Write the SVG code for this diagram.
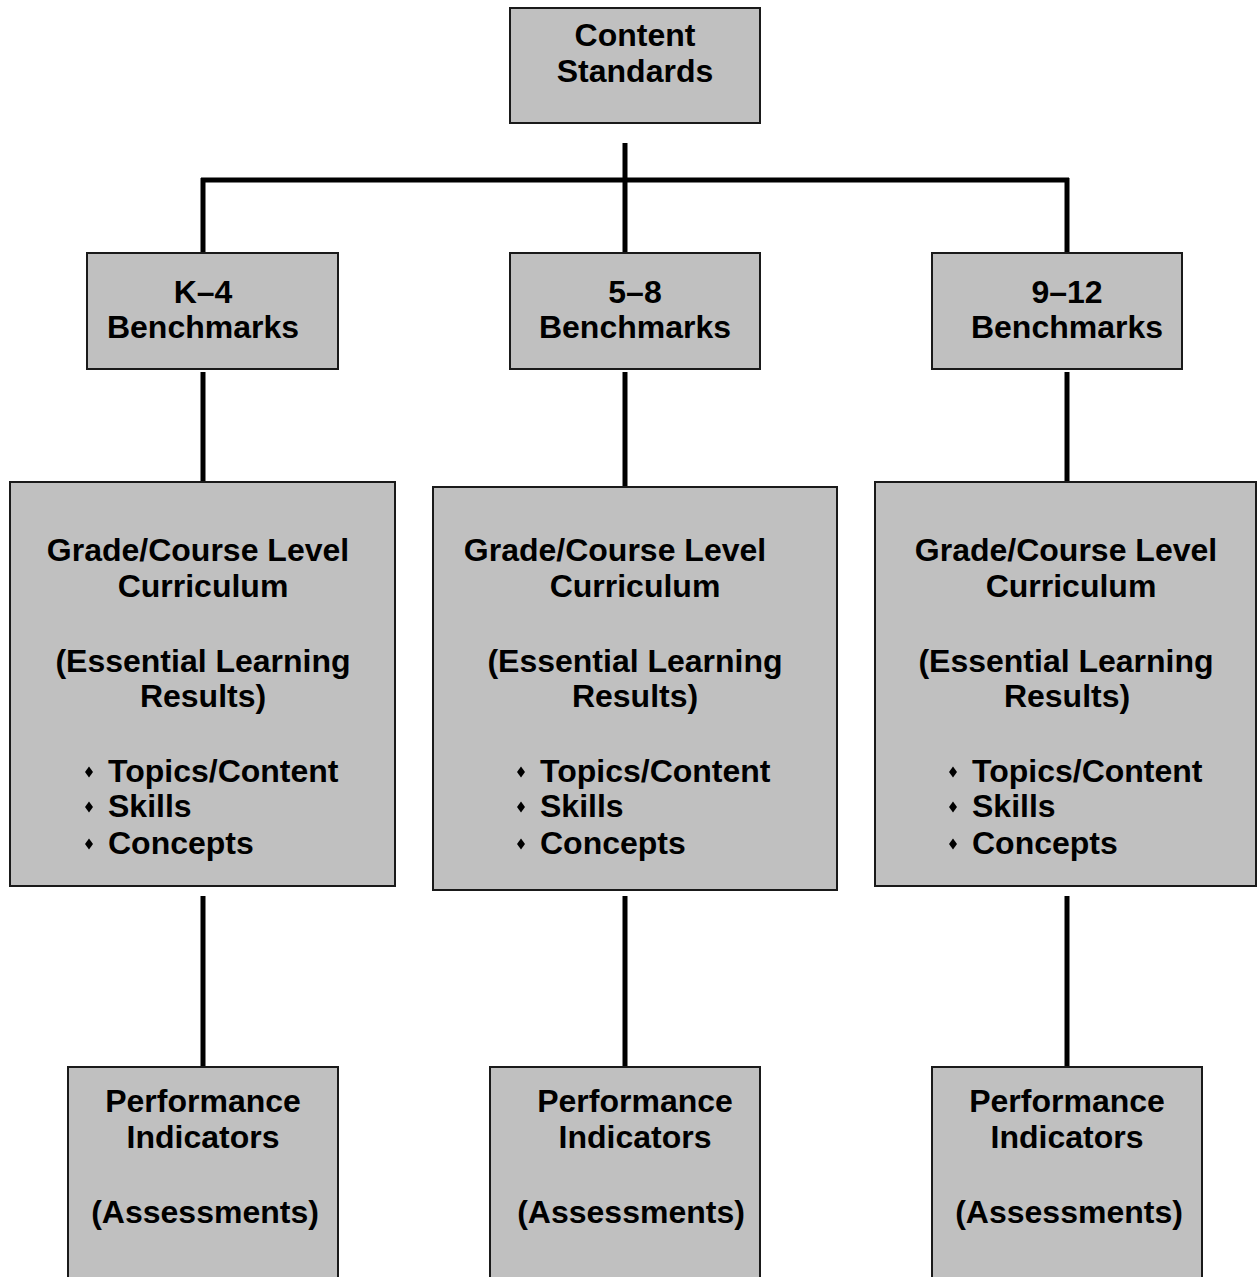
<svg xmlns="http://www.w3.org/2000/svg" width="1257" height="1277" viewBox="0 0 1257 1277">
<style>
.box{fill:#c0c0c0;stroke:#1a1a1a;stroke-width:2}
.t{font-family:"Liberation Sans",Arial,sans-serif;font-weight:bold;font-size:32px;fill:#000;text-anchor:middle}
.l{text-anchor:start}
.c{stroke:#000;stroke-width:5;fill:none}
</style>
<defs>
<polygon id="dia" points="0,-5.5 4,0 0,5.5 -4,0" fill="#000"/>
</defs>
<rect width="1257" height="1277" fill="#fff"/>
<g id="connectors">
<line class="c" x1="625" y1="143" x2="625" y2="257"/>
<line class="c" x1="201" y1="180" x2="1069" y2="180"/>
<line class="c" x1="203" y1="178" x2="203" y2="257"/>
<line class="c" x1="1067" y1="178" x2="1067" y2="257"/>
<line class="c" x1="203" y1="372" x2="203" y2="487"/>
<line class="c" x1="625" y1="372" x2="625" y2="489"/>
<line class="c" x1="1067" y1="372" x2="1067" y2="487"/>
<line class="c" x1="203" y1="896" x2="203" y2="1069"/>
<line class="c" x1="625" y1="896" x2="625" y2="1069"/>
<line class="c" x1="1067" y1="896" x2="1067" y2="1069"/>
</g>
<g id="content-standards">
<rect class="box" x="510" y="8" width="250" height="115"/>
<text class="t" x="635" y="46">Content</text>
<text class="t" x="635" y="82">Standards</text>
</g>
<g id="k4-benchmarks">
<rect class="box" x="87" y="253" width="251" height="116"/>
<text class="t" x="203" y="303">K–4</text>
<text class="t" x="203" y="338">Benchmarks</text>
</g>
<g id="58-benchmarks">
<rect class="box" x="510" y="253" width="250" height="116"/>
<text class="t" x="635" y="303">5–8</text>
<text class="t" x="635" y="338">Benchmarks</text>
</g>
<g id="912-benchmarks">
<rect class="box" x="932" y="253" width="250" height="116"/>
<text class="t" x="1067" y="303">9–12</text>
<text class="t" x="1067" y="338">Benchmarks</text>
</g>
<g id="curriculum-k4">
<rect class="box" x="10" y="482" width="385" height="404"/>
<text class="t" x="198" y="561">Grade/Course Level</text>
<text class="t" x="203" y="597">Curriculum</text>
<text class="t" x="203" y="672">(Essential Learning</text>
<text class="t" x="203" y="707">Results)</text>
<use href="#dia" x="89" y="772"/>
<use href="#dia" x="89" y="807"/>
<use href="#dia" x="89" y="844"/>
<text class="t l" x="108" y="782">Topics/Content</text>
<text class="t l" x="108" y="817">Skills</text>
<text class="t l" x="108" y="854">Concepts</text>
</g>
<g id="curriculum-58">
<rect class="box" x="433" y="487" width="404" height="403"/>
<text class="t" x="615" y="561">Grade/Course Level</text>
<text class="t" x="635" y="597">Curriculum</text>
<text class="t" x="635" y="672">(Essential Learning</text>
<text class="t" x="635" y="707">Results)</text>
<use href="#dia" x="521" y="772"/>
<use href="#dia" x="521" y="807"/>
<use href="#dia" x="521" y="844"/>
<text class="t l" x="540" y="782">Topics/Content</text>
<text class="t l" x="540" y="817">Skills</text>
<text class="t l" x="540" y="854">Concepts</text>
</g>
<g id="curriculum-912">
<rect class="box" x="875" y="482" width="381" height="404"/>
<text class="t" x="1066" y="561">Grade/Course Level</text>
<text class="t" x="1071" y="597">Curriculum</text>
<text class="t" x="1066" y="672">(Essential Learning</text>
<text class="t" x="1067" y="707">Results)</text>
<use href="#dia" x="953" y="772"/>
<use href="#dia" x="953" y="807"/>
<use href="#dia" x="953" y="844"/>
<text class="t l" x="972" y="782">Topics/Content</text>
<text class="t l" x="972" y="817">Skills</text>
<text class="t l" x="972" y="854">Concepts</text>
</g>
<g id="performance-k4">
<rect class="box" x="68" y="1067" width="270" height="220"/>
<text class="t" x="203" y="1112">Performance</text>
<text class="t" x="203" y="1148">Indicators</text>
<text class="t" x="205" y="1223">(Assessments)</text>
</g>
<g id="performance-58">
<rect class="box" x="490" y="1067" width="270" height="220"/>
<text class="t" x="635" y="1112">Performance</text>
<text class="t" x="635" y="1148">Indicators</text>
<text class="t" x="631" y="1223">(Assessments)</text>
</g>
<g id="performance-912">
<rect class="box" x="932" y="1067" width="270" height="220"/>
<text class="t" x="1067" y="1112">Performance</text>
<text class="t" x="1067" y="1148">Indicators</text>
<text class="t" x="1069" y="1223">(Assessments)</text>
</g>
</svg>
